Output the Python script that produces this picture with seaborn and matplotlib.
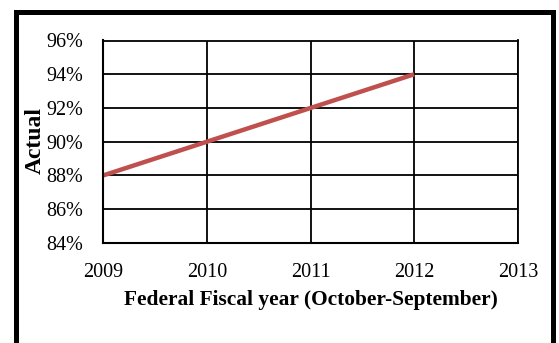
import matplotlib
matplotlib.use("Agg")
import matplotlib.pyplot as plt
from matplotlib.patches import Rectangle
from matplotlib.ticker import FuncFormatter
import seaborn as sns
import pandas as pd

# Fiscal-year performance data
years = [2009, 2010, 2011, 2012]
actual = [0.88, 0.90, 0.92, 0.94]
x_ticks = [2009, 2010, 2011, 2012, 2013]
y_ticks = [0.84, 0.86, 0.88, 0.90, 0.92, 0.94, 0.96]

df = pd.DataFrame({"year": years, "actual": actual})

sns.set_theme(style="white")
plt.rcParams["font.family"] = ["Liberation Serif", "DejaVu Serif"]

fig = plt.figure(figsize=(5.59, 3.43), dpi=100)
ax = fig.add_axes([103 / 559, 1 - 243 / 343, (518 - 103) / 559, (243 - 40.5) / 343])

sns.lineplot(data=df, x="year", y="actual", ax=ax, color="#C0504D",
             linewidth=3.2, solid_capstyle="butt")

ax.set_xlim(2009, 2013)
ax.set_ylim(0.84, 0.96)
ax.set_xticks(x_ticks)
ax.set_yticks(y_ticks)
ax.xaxis.set_major_formatter(FuncFormatter(lambda v, p: f"{int(round(v))}"))
ax.yaxis.set_major_formatter(FuncFormatter(lambda v, p: f"{v * 100:.0f}%"))

ax.grid(True, color="black", linewidth=1.3)
ax.set_axisbelow(True)
for side in ["top", "right"]:
    ax.spines[side].set_color("black")
    ax.spines[side].set_linewidth(1.3)
for side in ["left", "bottom"]:
    ax.spines[side].set_color("black")
    ax.spines[side].set_linewidth(1.5)

ax.tick_params(axis="both", which="major", direction="out", length=4.3, width=1.3,
               color="black", labelsize=14.5, labelcolor="black")
ax.tick_params(axis="y", pad=10)
ax.tick_params(axis="x", pad=10)

ax.set_xlabel("Federal Fiscal year (October-September)", fontsize=15.4,
              fontweight="bold", color="black")
ax.set_ylabel("Actual", fontsize=17, fontweight="bold", color="black")
ax.xaxis.set_label_coords(0.501, -0.23)
ax.yaxis.set_label_coords(-0.138, 0.505)

# Outer chart border
fig.patches.append(Rectangle((15.5 / 559, -0.1), (553 - 15.5) / 559, 1.1 - 11.5 / 343,
                             transform=fig.transFigure, fill=False,
                             edgecolor="black", linewidth=3.6))

fig.savefig("out.png", dpi=100)
